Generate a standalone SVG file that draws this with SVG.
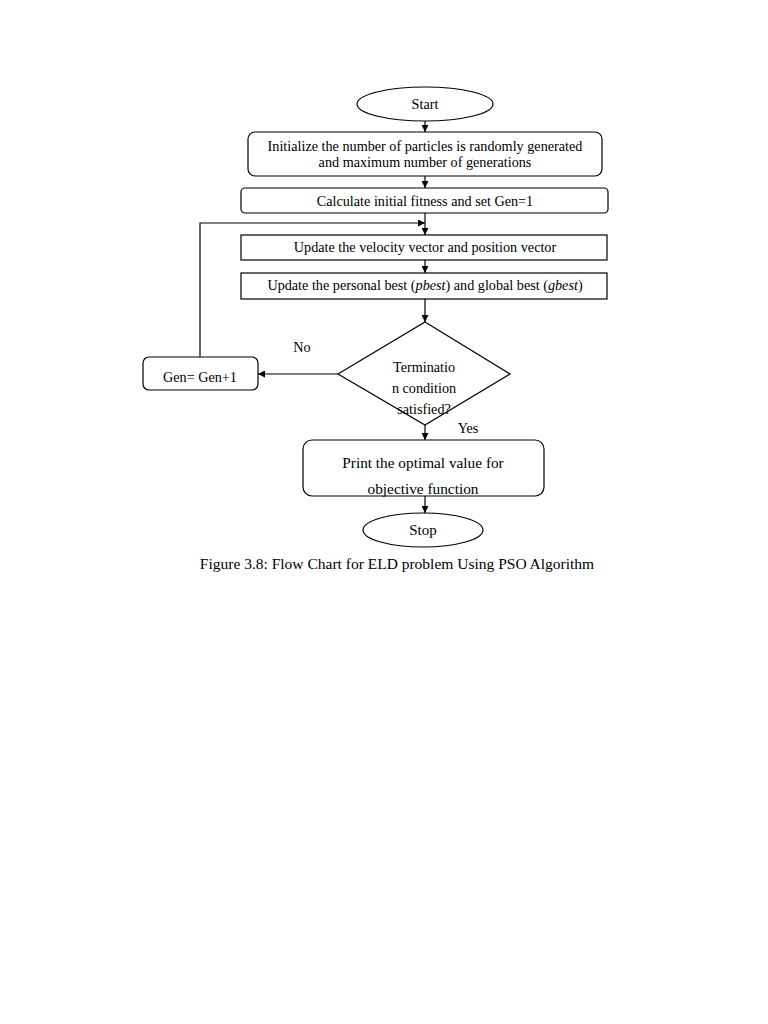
<svg xmlns="http://www.w3.org/2000/svg" width="768" height="1024" viewBox="0 0 768 1024">
<defs>
<marker id="ah" viewBox="0 0 10 10" refX="10" refY="5" markerWidth="7" markerHeight="7" markerUnits="userSpaceOnUse" orient="auto"><path d="M0,0 L10,5 L0,10 z" fill="#000"/></marker>
<style>
.s{fill:#fff;stroke:#000;stroke-width:1.2}
.t{font-family:"Liberation Serif","Times New Roman",serif;font-size:14.2px;fill:#000;text-anchor:middle}
.l{fill:none;stroke:#000;stroke-width:1.2}
</style>
</defs>
<rect width="768" height="1024" fill="#fff"/>
<g id="connectors">
<line class="l" x1="425" y1="121" x2="425" y2="132" marker-end="url(#ah)"/>
<line class="l" x1="425" y1="176" x2="425" y2="188" marker-end="url(#ah)"/>
<line class="l" x1="425" y1="213" x2="425" y2="235" marker-end="url(#ah)"/>
<line class="l" x1="425" y1="260" x2="425" y2="273" marker-end="url(#ah)"/>
<line class="l" x1="425" y1="299" x2="425" y2="322" marker-end="url(#ah)"/>
<line class="l" x1="338" y1="374" x2="258" y2="374" marker-end="url(#ah)"/>
<polyline class="l" points="200,357 200,223 425,223" marker-end="url(#ah)"/>
<line class="l" x1="425" y1="425" x2="425" y2="440" marker-end="url(#ah)"/>
<line class="l" x1="425" y1="496" x2="425" y2="513" marker-end="url(#ah)"/>
<text class="t" x="302" y="352">No</text>
<text class="t" x="468" y="433">Yes</text>
</g>
<g id="start"><ellipse class="s" cx="425" cy="104" rx="68" ry="17"/><text class="t" x="425" y="109">Start</text></g>
<g id="init"><rect class="s" x="248" y="132" width="354" height="44" rx="7"/><text class="t" x="425" y="151">Initialize the number of particles is randomly generated</text><text class="t" x="425" y="167">and maximum number of generations</text></g>
<g id="calc"><rect class="s" x="241" y="188" width="367" height="25" rx="4"/><text class="t" x="425" y="206">Calculate initial fitness and set Gen=1</text></g>
<g id="velocity"><rect class="s" x="241" y="235" width="366" height="25"/><text class="t" x="425" y="252">Update the velocity vector and position vector</text></g>
<g id="best"><rect class="s" x="241" y="273" width="366" height="26"/><text class="t" x="425" y="290">Update the personal best (<tspan font-style="italic">pbest</tspan>) and global best (<tspan font-style="italic">gbest</tspan>)</text></g>
<g id="decision"><polygon class="s" points="425,322 510,374 425,425 338,374"/><text class="t" x="424" y="372">Terminatio</text><text class="t" x="424" y="393">n condition</text><text class="t" x="424" y="414">satisfied?</text></g>
<g id="gen"><rect class="s" x="143" y="357" width="115" height="33" rx="6"/><text class="t" x="200" y="382">Gen= Gen+1</text></g>
<g id="print"><rect class="s" x="303" y="440" width="241" height="56" rx="9"/><text class="t" x="423" y="468" style="font-size:15.3px">Print the optimal value for</text><text class="t" x="423" y="494" style="font-size:15.3px">objective function</text></g>
<g id="stop"><ellipse class="s" cx="423" cy="530" rx="60" ry="17"/><text class="t" x="423" y="535" style="font-size:15px">Stop</text></g>
<text class="t" x="397" y="569" style="font-size:15.5px">Figure 3.8: Flow Chart for ELD problem Using PSO Algorithm</text>
</svg>
